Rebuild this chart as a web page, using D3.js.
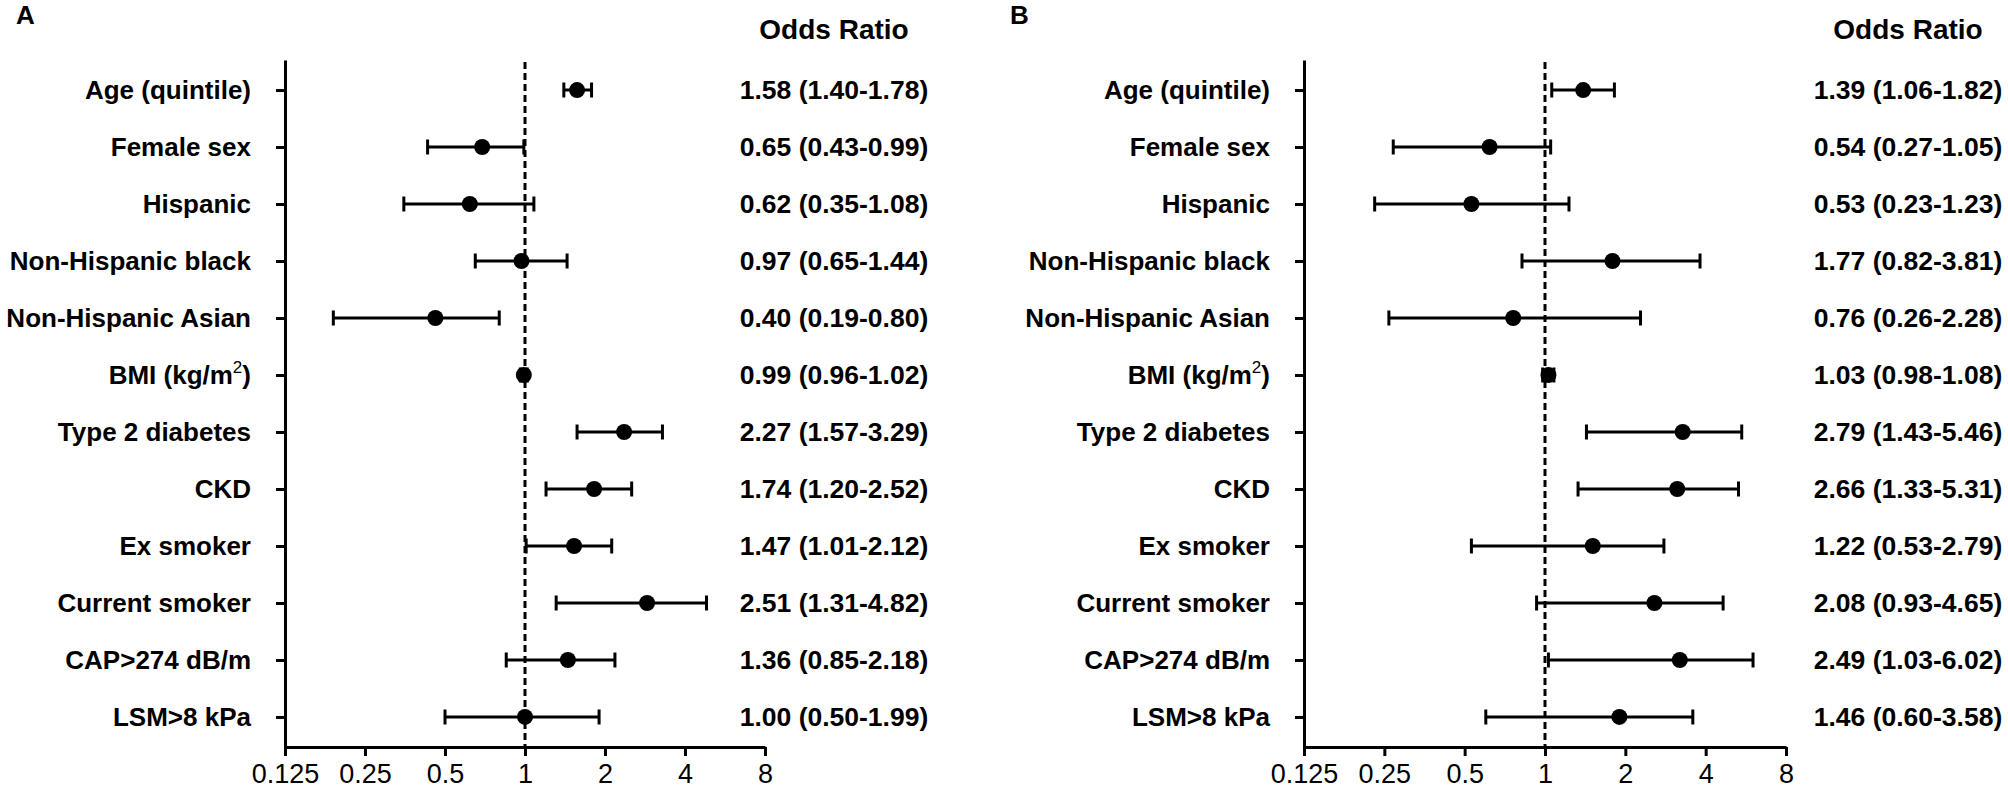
<!DOCTYPE html>
<html>
<head>
<meta charset="utf-8">
<script src="https://cdn.jsdelivr.net/npm/d3@7"></script>
<style>
  html, body { margin: 0; padding: 0; background: #fff; }
  svg { display: block; font-family: "Liberation Sans", Arial, sans-serif; }
</style>
</head>
<body>
<svg id="chart"></svg>
<script>
// Rows, top to bottom
const rowLabels = ["Age (quintile)", "Female sex", "Hispanic", "Non-Hispanic black",
  "Non-Hispanic Asian", "BMI (kg/m2)", "Type 2 diabetes", "CKD", "Ex smoker",
  "Current smoker", "CAP>274 dB/m", "LSM>8 kPa"];

const tickValues = [0.125, 0.25, 0.5, 1, 2, 4, 8];
const tickLabels = ["0.125", "0.25", "0.5", "1", "2", "4", "8"];

// Panel A - plotted estimate and CI (read off the markers)
const pointA = [1.57, 0.69, 0.62, 0.97, 0.46, 0.99, 2.36, 1.82, 1.53, 2.88, 1.45, 1.00];
const lowA   = [1.40, 0.43, 0.35, 0.65, 0.19, 0.96, 1.57, 1.20, 1.01, 1.31, 0.85, 0.50];
const highA  = [1.78, 0.99, 1.08, 1.44, 0.80, 1.02, 3.29, 2.52, 2.12, 4.82, 2.18, 1.90];
const textA  = ["1.58 (1.40-1.78)", "0.65 (0.43-0.99)", "0.62 (0.35-1.08)", "0.97 (0.65-1.44)",
  "0.40 (0.19-0.80)", "0.99 (0.96-1.02)", "2.27 (1.57-3.29)", "1.74 (1.20-2.52)",
  "1.47 (1.01-2.12)", "2.51 (1.31-4.82)", "1.36 (0.85-2.18)", "1.00 (0.50-1.99)"];

// Panel B
const pointB = [1.39, 0.62, 0.53, 1.79, 0.76, 1.03, 3.28, 3.13, 1.51, 2.57, 3.20, 1.90];
const lowB   = [1.06, 0.27, 0.23, 0.82, 0.26, 0.98, 1.43, 1.33, 0.53, 0.93, 1.03, 0.60];
const highB  = [1.82, 1.05, 1.23, 3.81, 2.28, 1.08, 5.46, 5.31, 2.79, 4.65, 6.02, 3.58];
const textB  = ["1.39 (1.06-1.82)", "0.54 (0.27-1.05)", "0.53 (0.23-1.23)", "1.77 (0.82-3.81)",
  "0.76 (0.26-2.28)", "1.03 (0.98-1.08)", "2.79 (1.43-5.46)", "2.66 (1.33-5.31)",
  "1.22 (0.53-2.79)", "2.08 (0.93-4.65)", "2.49 (1.03-6.02)", "1.46 (0.60-3.58)"];

const width = 2008, height = 788;
const svg = d3.select("#chart")
    .attr("width", width)
    .attr("height", height)
    .attr("viewBox", [0, 0, width, height]);

const axisTop = 60, axisBottomY = 747;

const y = d3.scalePoint()
    .domain(rowLabels)
    .range([axisTop, axisBottomY])
    .padding(0.527);

function drawPanel(opts) {
  const { letter, letterX, x0, x1, points, lows, highs, texts, textX } = opts;

  const x = d3.scaleLog().base(2)
      .domain([0.125, 8])
      .range([x0, x1]);

  const g = svg.append("g");

  // Panel letter
  g.append("text")
      .attr("x", letterX)
      .attr("y", 24)
      .attr("font-size", 26)
      .attr("font-weight", "bold")
      .text(letter);

  // Header
  g.append("text")
      .attr("x", textX)
      .attr("y", 39)
      .attr("text-anchor", "middle")
      .attr("font-size", 28)
      .attr("font-weight", "bold")
      .text("Odds Ratio");

  // Reference line at OR = 1
  g.append("line")
      .attr("x1", x(1)).attr("x2", x(1))
      .attr("y1", 62).attr("y2", axisBottomY)
      .attr("stroke", "#000")
      .attr("stroke-width", 3)
      .attr("stroke-dasharray", "7,4");

  // y axis
  const yAxis = g.append("g")
      .attr("transform", `translate(${x0},0)`)
      .call(d3.axisLeft(y).tickSize(9).tickSizeOuter(0).tickPadding(25));
  yAxis.select(".domain").attr("stroke-width", 3);
  yAxis.selectAll(".tick line").attr("stroke-width", 3);
  yAxis.selectAll(".tick text")
      .attr("font-size", 26)
      .attr("font-weight", "bold")
      .attr("font-family", "Liberation Sans, Arial, sans-serif")
      .attr("fill", "#000")
      .each(function (d) {
        if (d !== "BMI (kg/m2)") return;
        const t = d3.select(this).text(null);
        t.append("tspan").text("BMI (kg/m");
        t.append("tspan").attr("dy", -11).attr("font-size", 17).attr("font-weight", "normal").text("2");
        t.append("tspan").attr("dy", 11).text(")");
      });

  // x axis
  const xAxis = g.append("g")
      .attr("transform", `translate(0,${axisBottomY})`)
      .call(d3.axisBottom(x)
        .tickValues(tickValues)
        .tickFormat((d, i) => tickLabels[i])
        .tickSize(9)
        .tickSizeOuter(0)
        .tickPadding(8));
  xAxis.select(".domain").attr("stroke-width", 3);
  xAxis.selectAll(".tick line").attr("stroke-width", 3);
  xAxis.selectAll(".tick text")
      .attr("font-size", 27)
      .attr("font-family", "Liberation Sans, Arial, sans-serif")
      .attr("fill", "#000");

  // Error bars and points
  const rows = g.append("g")
    .selectAll("g")
    .data(rowLabels)
    .join("g")
      .attr("transform", d => `translate(0,${y(d)})`);

  rows.append("path")
      .attr("fill", "none")
      .attr("stroke", "#000")
      .attr("stroke-width", 3)
      .attr("d", (d, i) => `
        M${x(lows[i])},0 H${x(highs[i])}
        M${x(lows[i])},-7.5 V7.5
        M${x(highs[i])},-7.5 V7.5
      `);

  rows.append("circle")
      .attr("cx", (d, i) => x(points[i]))
      .attr("cy", 0)
      .attr("r", 8)
      .attr("fill", "#000");

  // Odds ratio column
  rows.append("text")
      .attr("x", textX)
      .attr("dy", "0.35em")
      .attr("text-anchor", "middle")
      .attr("font-size", 26.5)
      .attr("font-weight", "bold")
      .text((d, i) => texts[i]);
}

drawPanel({ letter: "A", letterX: 16, x0: 285, x1: 765,
  points: pointA, lows: lowA, highs: highA, texts: textA, textX: 834 });
drawPanel({ letter: "B", letterX: 1010, x0: 1304, x1: 1786,
  points: pointB, lows: lowB, highs: highB, texts: textB, textX: 1908 });
</script>
</body>
</html>
